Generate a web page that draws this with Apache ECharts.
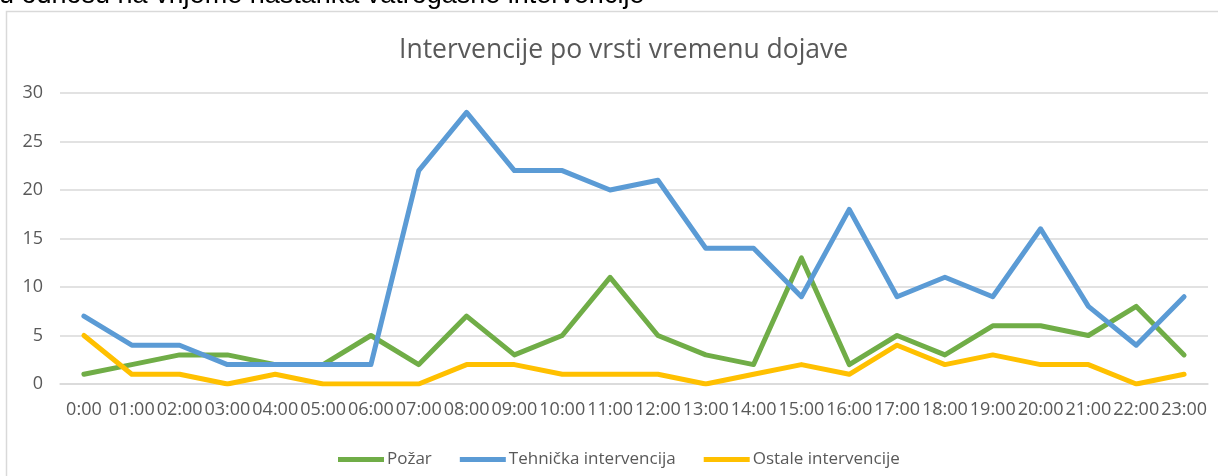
<!DOCTYPE html>
<html>
<head>
<meta charset="utf-8">
<script src="https://cdn.jsdelivr.net/npm/echarts@6/dist/echarts.min.js"></script>
<style>
  html, body { margin: 0; padding: 0; background: #fff; }
  #chart { width: 1218px; height: 476px; }
</style>
</head>
<body>
<div id="chart"></div>
<script>
var hours = ['0:00', '01:00', '02:00', '03:00', '04:00', '05:00', '06:00', '07:00', '08:00', '09:00', '10:00', '11:00',
             '12:00', '13:00', '14:00', '15:00', '16:00', '17:00', '18:00', '19:00', '20:00', '21:00', '22:00', '23:00'];
var pozar     = [1, 2, 3, 3, 2, 2, 5, 2, 7, 3, 5, 11, 5, 3, 2, 13, 2, 5, 3, 6, 6, 5, 8, 3];
var tehnicka  = [7, 4, 4, 2, 2, 2, 2, 22, 28, 22, 22, 20, 21, 14, 14, 9, 18, 9, 11, 9, 16, 8, 4, 9];
var ostale    = [5, 1, 1, 0, 1, 0, 0, 0, 2, 2, 1, 1, 1, 0, 1, 2, 1, 4, 2, 3, 2, 2, 0, 1];
var yTicks = [0, 5, 10, 15, 20, 25, 30];

var chart = echarts.init(document.getElementById('chart'));

function lineSeries(name, data, color) {
    return {
        name: name,
        type: 'line',
        data: data,
        symbol: 'none',
        lineStyle: { color: color, width: 5, join: 'round', cap: 'round' },
        itemStyle: { color: color }
    };
}

var option = {
    animation: false,
    textStyle: { fontFamily: 'Open Sans' },
    title: {
        text: 'Intervencije po vrsti vremenu dojave',
        left: 394,
        top: 32,
        textStyle: { fontFamily: 'Open Sans', fontSize: 26.5, fontWeight: 'normal', color: '#595959' }
    },
    graphic: [
        {
            // caption above the chart box, cut off by the top edge
            type: 'text',
            x: -1,
            y: 9,
            style: {
                text: 'u odnosu na vrijeme nastanka vatrogasne intervencije',
                font: '27px "Liberation Sans"',
                fill: '#000',
                verticalAlign: 'bottom'
            }
        },
        {
            type: 'rect',
            shape: { x: 6.5, y: 11.5, width: 1230, height: 480 },
            style: { fill: 'none', stroke: '#d9d9d9', lineWidth: 1.5 },
            z: -1
        }
    ],
    legend: {
        top: 446,
        left: 333,
        itemWidth: 46,
        itemHeight: 5,
        itemGap: 28,
        icon: 'rect',
        textStyle: { fontSize: 17, color: '#595959', padding: [0, 0, 0, -2] },
        data: ['Požar', 'Tehnička intervencija', 'Ostale intervencije']
    },
    grid: { left: 60, right: 10, top: 93, bottom: 92 },
    xAxis: {
        type: 'category',
        data: hours,
        boundaryGap: true,
        axisLine: { lineStyle: { color: '#d9d9d9', width: 1.5 } },
        axisTick: { show: false },
        axisLabel: { interval: 0, color: '#595959', fontSize: 18, margin: 17 }
    },
    yAxis: {
        type: 'value',
        min: yTicks[0],
        max: yTicks[yTicks.length - 1],
        interval: 5,
        axisLine: { show: false },
        axisTick: { show: false },
        axisLabel: { color: '#595959', fontSize: 18, margin: 17 },
        splitLine: { lineStyle: { color: '#d9d9d9', width: 1.5 } }
    },
    series: [
        lineSeries('Požar', pozar, '#70AD47'),
        lineSeries('Tehnička intervencija', tehnicka, '#5B9BD5'),
        lineSeries('Ostale intervencije', ostale, '#FFC000')
    ]
};

chart.setOption(option);
</script>
</body>
</html>
